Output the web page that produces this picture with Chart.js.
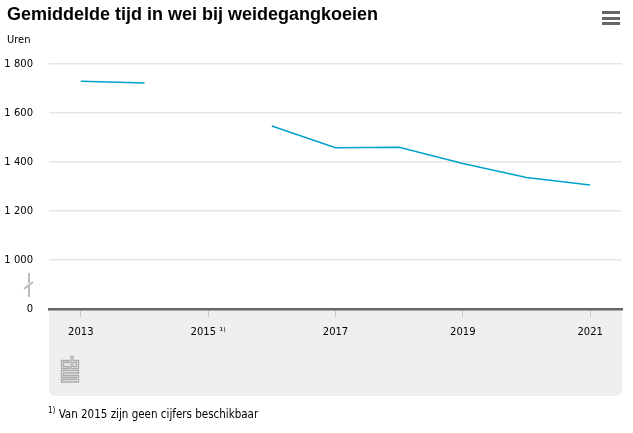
<!DOCTYPE html>
<html>
<head>
<meta charset="utf-8">
<script src="https://cdn.jsdelivr.net/npm/chart.js@4.4.0/dist/chart.umd.min.js"></script>
<style>
  body { margin: 0; background: #fff; font-family: "DejaVu Sans", sans-serif; }
  #wrap { position: relative; width: 633px; height: 433px; overflow: hidden; }
  #title { position: absolute; left: 7px; top: 4px; font: bold 18px "Liberation Sans", sans-serif; color: #000; white-space: nowrap; }
  #unit { position: absolute; left: 7px; top: 33px; font: 11px "DejaVu Sans Condensed", "DejaVu Sans", sans-serif; color: #000; }
  #menu { position: absolute; left: 602px; top: 11px; width: 18px; }
  #menu div { height: 3px; background: #666; margin-bottom: 2.5px; }
  #band { position: absolute; left: 49px; top: 310px; width: 573px; height: 86px; background: #efefef; border-radius: 0 0 6px 6px; }
  #logo { position: absolute; left: 60px; top: 355px; }
  #note { position: absolute; left: 48px; top: 406px; font: 11.5px "DejaVu Sans Condensed", "DejaVu Sans", sans-serif; color: #000; white-space: nowrap; }
  #note sup { font-size: 8px; }
  canvas { position: absolute; left: 0; top: 0; }
</style>
</head>
<body>
<div id="wrap">
  <div id="band"></div>
  <svg id="logo" width="20" height="29" viewBox="0 0 20 29" fill="none" stroke="#aaa" stroke-width="1.3">
    <path d="M9 5.5 H1.5 V13.5 H9 V11.5 H3.5 V7.5 H9 Z" />
    <path d="M11 1.5 H13 V5.5 H18.5 V13.5 H11 Z" />
    <rect x="13" y="7.5" width="3.5" height="4" />
    <path d="M18.5 15.5 H1.5 V22.5 H16.5 V24.5 H1.5 V27 H18.5 V20.5 H3.5 V18 H18.5 Z" />
  </svg>
  <canvas id="chart" width="633" height="433"></canvas>
  <div id="title">Gemiddelde tijd in wei bij weidegangkoeien</div>
  <div id="unit">Uren</div>
  <div id="menu"><div></div><div></div><div></div></div>
  <div id="note"><sup>1)</sup> Van 2015 zijn geen cijfers beschikbaar</div>
</div>
<script>
// jaren en uren (2015 ontbreekt)
const years = [2013, 2014, 2015, 2016, 2017, 2018, 2019, 2020, 2021];
const hours = [1730, 1722, null, 1547, 1458, 1460, 1394, 1337, 1306];

const xTicks = [2013, 2015, 2017, 2019, 2021];
const xTickLabels = ["2013", "2015 \u00b9\u207e", "2017", "2019", "2021"];
// 800 op de as staat voor 0 (asbreuk)
const yTicks = [800, 1000, 1200, 1400, 1600, 1800];
const yTickLabels = ["0", "1 000", "1 200", "1 400", "1 600", "1 800"];

const axisBreak = {
  id: "axisBreak",
  afterDraw(chart) {
    const ctx = chart.ctx;
    const y = chart.scales.y;
    const top = y.getPixelForValue(1000) + 13;
    const bot = y.getPixelForValue(800) - 12;
    const mid = (top + bot) / 2;
    ctx.save();
    ctx.strokeStyle = "#bbb";
    ctx.lineWidth = 2;
    ctx.beginPath();
    ctx.moveTo(29, top);
    ctx.lineTo(29, mid - 2);
    ctx.moveTo(24, mid + 4);
    ctx.lineTo(33, mid - 3);
    ctx.moveTo(29, mid + 1);
    ctx.lineTo(29, bot);
    ctx.stroke();
    ctx.restore();
  }
};

const ctx = document.getElementById("chart").getContext("2d");
new Chart(ctx, {
  type: "line",
  data: {
    datasets: [{
      label: "Uren",
      data: years.map((y, i) => ({ x: y, y: hours[i] })),
      borderColor: "#00a1cd",
      borderWidth: 1.5,
      pointRadius: 0,
      spanGaps: false,
      tension: 0
    }]
  },
  options: {
    responsive: false,
    animation: false,
    layout: { padding: { top: 64, right: 11, left: 0, bottom: 0 } },
    plugins: { legend: { display: false }, tooltip: { enabled: false } },
    scales: {
      x: {
        type: "linear",
        min: 2012.5,
        max: 2021.5,
        afterBuildTicks: s => { s.ticks = xTicks.map(v => ({ value: v })); },
        afterFit: s => { s.height = 124; },
        ticks: {
          autoSkip: false,
          maxRotation: 0,
          padding: 9,
          color: "#000",
          font: { family: "DejaVu Sans", size: 10 },
          callback: (v, i) => xTickLabels[i]
        },
        grid: { drawOnChartArea: false, drawTicks: true, tickLength: 8, color: "#c8c8c8" },
        border: { color: "#666", width: 2.5 }
      },
      y: {
        min: 800,
        max: 1800,
        afterBuildTicks: s => { s.ticks = yTicks.map(v => ({ value: v })); },
        afterFit: s => { s.width = 49; },
        ticks: {
          padding: 16,
          color: "#000",
          font: { family: "DejaVu Sans", size: 10 },
          callback: (v, i) => yTickLabels[i]
        },
        grid: { color: "#e6e6e6", lineWidth: 1.5, drawTicks: false },
        border: { display: false }
      }
    }
  },
  plugins: [axisBreak]
});
</script>
</body>
</html>
